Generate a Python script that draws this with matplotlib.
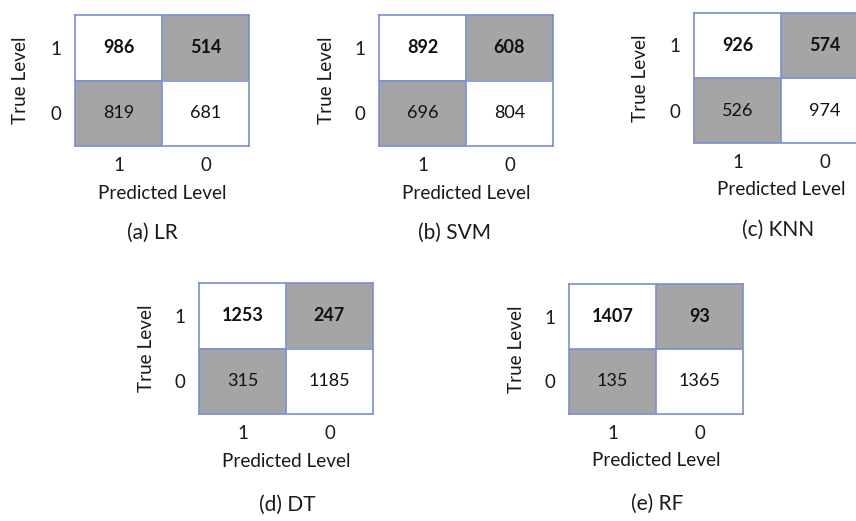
import matplotlib
matplotlib.use("Agg")
import matplotlib.pyplot as plt
from matplotlib.colors import ListedColormap
import numpy as np

plt.rcParams['font.family'] = ['Lato', 'DejaVu Sans']

# Confusion matrices: rows = true level (1, 0), columns = predicted level (1, 0)
models = ["LR", "SVM", "KNN", "DT", "RF"]
captions = ["(a) LR", "(b) SVM", "(c) KNN", "(d) DT", "(e) RF"]
cm_lr = [[986, 514], [819, 681]]
cm_svm = [[892, 608], [696, 804]]
cm_knn = [[926, 574], [526, 974]]
cm_dt = [[1253, 247], [315, 1185]]
cm_rf = [[1407, 93], [135, 1365]]
matrices = [cm_lr, cm_svm, cm_knn, cm_dt, cm_rf]
level_labels = ["1", "0"]

W, H = 856, 521
fig = plt.figure(figsize=(W / 100, H / 100), dpi=100)
fig.patch.set_facecolor("white")

# Panel boxes in pixels: (left, top, width, height)
boxes = [(75, 15, 174, 131), (379, 15, 174, 131), (694, 13, 174, 130),
         (199, 283, 174, 131), (569, 284, 174, 130)]
caption_dx = [-10, -11, -3, 1, 1]
ylabel_x = [21, 326, 641, 146, 517]

edge = "#7b8fd0"
gray = "#a5a5a5"
txt = "#1a1a1a"
cmap = ListedColormap(["white", gray])
fs_num = 13
fs_lab = 13.6
fs_tick = 13.5
fs_cap = 15

for i, (cm, box) in enumerate(zip(matrices, boxes)):
    l, t, w, h = box
    ax = fig.add_axes([l / W, (H - t - h) / H, w / W, h / H])
    cm = np.array(cm)
    shade = 1 - np.eye(2)
    ax.imshow(shade, cmap=cmap, vmin=0, vmax=1, aspect="auto",
              extent=(-0.5, 1.5, 1.5, -0.5))
    ax.set_xlim(-0.5, 1.5)
    ax.set_ylim(1.5, -0.5)
    for r in range(2):
        for c in range(2):
            ax.text(c, r, str(cm[r, c]), ha="center", va="center",
                    fontsize=fs_num, fontweight="bold" if r == 0 else "normal",
                    color="#111111")
    ax.axhline(0.5, color=edge, lw=1.2)
    ax.axvline(0.5, color=edge, lw=1.2)
    for s in ax.spines.values():
        s.set_color(edge)
        s.set_linewidth(1.2)
    ax.set_xticks([0, 1])
    ax.set_xticklabels(level_labels, fontsize=fs_tick, color=txt)
    ax.set_yticks([0, 1])
    ax.set_yticklabels(level_labels, fontsize=fs_tick, color=txt)
    ax.tick_params(axis="x", length=0, pad=8)
    ax.tick_params(axis="y", length=0, pad=10)
    ax.text(0.5, -0.36, "Predicted Level", transform=ax.transAxes,
            ha="center", va="center", fontsize=fs_lab, color=txt)
    ax.text((ylabel_x[i] - l) / w, 0.5, "True Level", transform=ax.transAxes,
            ha="center", va="center", rotation=90, fontsize=fs_lab, color=txt)
    cap_y = -0.665 if i < 3 else -0.69
    ax.text(0.5 + caption_dx[i] / w, cap_y, captions[i], transform=ax.transAxes,
            ha="center", va="center", fontsize=fs_cap, color=txt)

fig.savefig("out.png", dpi=100, facecolor="white")
